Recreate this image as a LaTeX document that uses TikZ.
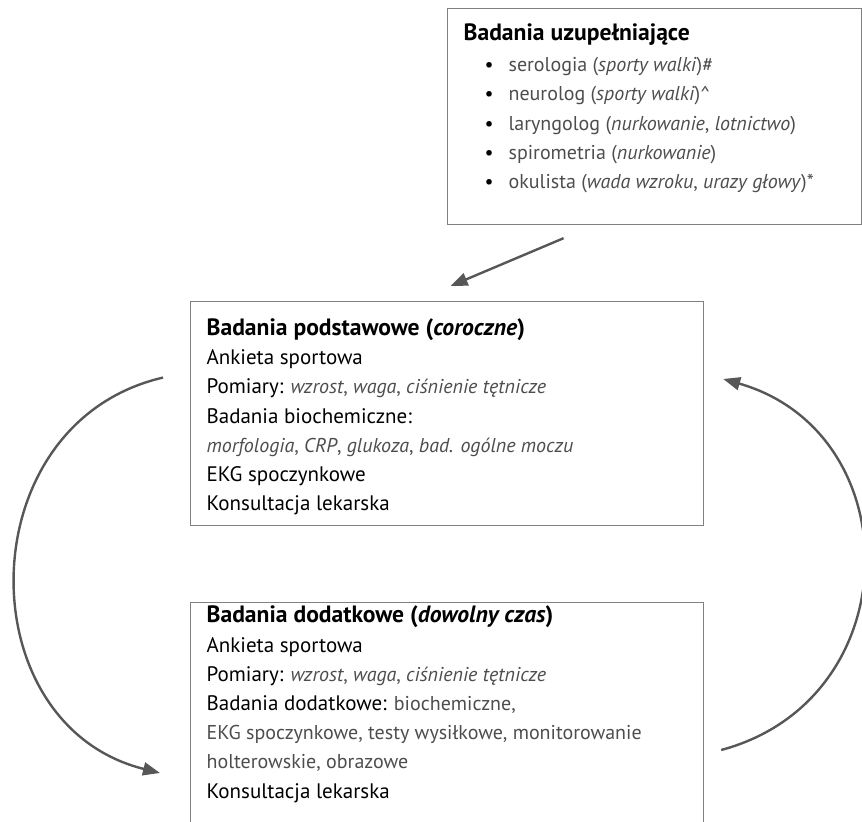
\documentclass[tikz,border=0pt]{standalone}
\usepackage{fontspec}
\setmainfont{PT Sans}
\usetikzlibrary{calc,arrows.meta}
\definecolor{ramkagray}{HTML}{808080}
\definecolor{strzgray}{HTML}{575757}
\definecolor{opisgray}{HTML}{4D4D4D}
\newcommand{\op}[1]{{\color{opisgray}#1}}
\newcommand{\tyt}[1]{{\fontsize{11.8pt}{14.6pt}\selectfont\bfseries #1}}
\newcommand{\lab}[1]{{\fontsize{10.5pt}{14.6pt}\selectfont #1}}
\newcommand{\pkt}[1]{\hspace*{10.5pt}\makebox[12pt][l]{\textbullet}{\color{opisgray}#1}}
\newcommand{\tresc}[4]{\parbox[t][#1][t]{#2}{\rule{0pt}{#3}#4}}

\begin{document}
\begin{tikzpicture}[x=0.5pt,y=0.5pt]
  \tikzset{box/.style={draw=ramkagray, line width=0.6pt, anchor=north west,
             inner xsep=8pt, inner ysep=0pt,
             font=\fontsize{10pt}{14.6pt}\selectfont},
           luk/.style={draw=strzgray, line width=1.2pt,
             -{Triangle[length=8.5pt,width=6.5pt]}}}
  \useasboundingbox (0,0) rectangle (862,822);

  \node[box] (uzup) at (447,814) {\tresc{108pt}{191pt}{16pt}{%
      \tyt{Badania uzupełniające}\\[1pt]
      \pkt{serologia (\textit{sporty walki})\#}\\
      \pkt{neurolog (\textit{sporty walki})\textasciicircum}\\
      \pkt{laryngolog (\textit{nurkowanie}, \textit{lotnictwo})}\\
      \pkt{spirometria (\textit{nurkowanie})}\\
      \pkt{okulista (\textit{wada wzroku}, \textit{urazy głowy})*}}};

  \node[box] (podst) at (190,521) {\tresc{112pt}{240.5pt}{17pt}{%
      \tyt{Badania podstawowe (\textit{coroczne})}\\
      \lab{Ankieta sportowa}\\
      \lab{Pomiary:} \op{\textit{wzrost}, \textit{waga}, \textit{ciśnienie tętnicze}}\\
      \lab{Badania biochemiczne:}\\
      \op{\textit{morfologia}, \textit{CRP}, \textit{glukoza}, \textit{bad. ogólne moczu}}\\
      \lab{EKG spoczynkowe}\\
      \lab{Konsultacja lekarska}}};

  \node[box] (dodat) at (190,220) {\tresc{120pt}{240.5pt}{10.2pt}{%
      \tyt{Badania dodatkowe (\textit{dowolny czas})}\\
      \lab{Ankieta sportowa}\\
      \lab{Pomiary:} \op{\textit{wzrost}, \textit{waga}, \textit{ciśnienie tętnicze}}\\
      \lab{Badania dodatkowe:} \op{biochemiczne,}\\
      \op{EKG spoczynkowe, testy wysiłkowe, monitorowanie}\\
      \op{holterowskie, obrazowe}\\
      \lab{Konsultacja lekarska}}};

  % free ends of the connectors
  \coordinate (u1) at ($(uzup.south)+(-91,-13)$);
  \coordinate (u2) at ($(podst.north)+(3.5,15)$);
  \coordinate (l1) at ($(podst.west)+(-27,36)$);
  \coordinate (l2) at ($(dodat.north west)+(-30,-171)$);
  \coordinate (r1) at ($(dodat.north east)+(17,-148)$);
  \coordinate (r2) at ($(podst.north east)+(19,-78)$);

  \draw[luk] (u1) -- (u2);
  \draw[luk] (l1) .. controls +(193:200) and +(166:200) .. (l2);
  \draw[luk] (r1) .. controls +(15:195) and +(344:195) .. (r2);
\end{tikzpicture}
\end{document}
